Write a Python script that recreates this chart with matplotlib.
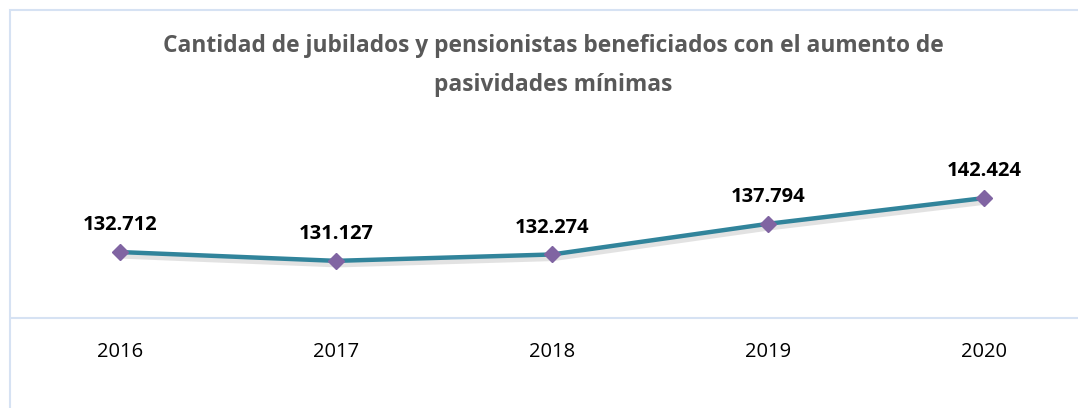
import matplotlib
matplotlib.use("Agg")
import matplotlib.pyplot as plt
import matplotlib.patheffects as pe
from matplotlib.patches import Rectangle
import numpy as np

years = ["2016", "2017", "2018", "2019", "2020"]
values = [132712, 131127, 132274, 137794, 142424]
labels = ["132.712", "131.127", "132.274", "137.794", "142.424"]

W, H = 1078, 408
fig = plt.figure(figsize=(W / 100, H / 100), dpi=100)
fig.patch.set_facecolor("white")

# outer chart frame (partially visible)
fig.add_artist(Rectangle((9.5 / W, -0.1), 1.2, (H - 10) / H + 0.1, transform=fig.transFigure,
                         fill=False, edgecolor="#D6E2F3", linewidth=1.5))

fam = ["Open Sans", "DejaVu Sans"]

# plot area: x from 12 to ~1091 px, y from 156 to 318 px
left, right = 12, 1078
top, bottom = 156, 318
ax = fig.add_axes([left / W, 1 - bottom / H, (right - left) / W, (bottom - top) / H])
x = np.arange(len(years))
ax.set_xlim(-0.5, -0.5 + (right - left) / 216)
ax.set_ylim(120842, 150000)

ax.plot(x, values, color="#31849B", linewidth=3.2, solid_capstyle="round",
        path_effects=[pe.SimpleLineShadow(offset=(1.2, -2.5), shadow_color="#999999", alpha=0.28, linewidth=4.5),
                      pe.Normal()],
        zorder=2)
ax.plot(x, values, linestyle="none", marker="D", markersize=8.5, color="#8064A2", zorder=3)

for xi, v, lab in zip(x, values, labels):
    ax.annotate(lab, (xi, v), xytext=(0, 12), textcoords="offset points", ha="center", va="bottom",
                fontsize=14.5, fontweight="bold", color="black", family=fam)

for s in ["top", "right", "left"]:
    ax.spines[s].set_visible(False)
ax.spines["bottom"].set_color("#D6E2F3")
ax.spines["bottom"].set_linewidth(1.5)
ax.set_yticks([])
ax.set_xticks(x)
ax.set_xticklabels(years, fontsize=14.5, family=fam, color="black")
ax.tick_params(axis="x", length=0, pad=17)
ax.patch.set_alpha(0)

fig.text(553 / W, 1 - 46 / H, "Cantidad de jubilados y pensionistas beneficiados con el aumento de",
         ha="center", va="center", fontsize=16.4, fontweight="bold", color="#595959", family=fam)
fig.text(553 / W, 1 - 85 / H, "pasividades mínimas",
         ha="center", va="center", fontsize=16.4, fontweight="bold", color="#595959", family=fam)

fig.savefig("out.png", dpi=100, facecolor="white")
